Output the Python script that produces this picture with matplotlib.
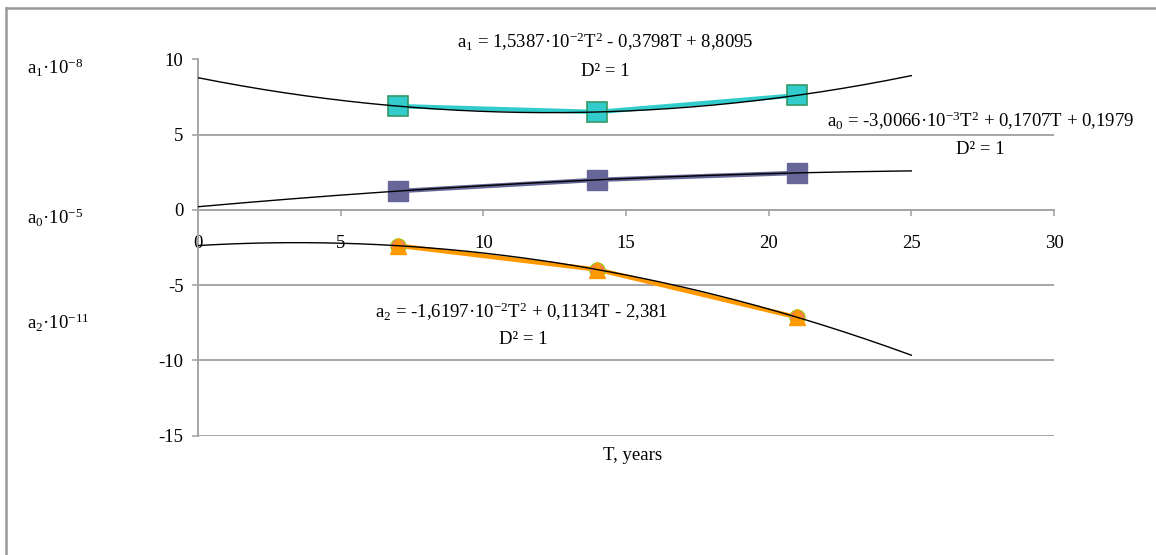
import numpy as np
import matplotlib
matplotlib.use("Agg")
import matplotlib.pyplot as plt
from matplotlib.lines import Line2D

# ---- data ----
T = [7, 14, 21]
a1 = [6.90, 6.51, 7.62]
a0 = [1.25, 2.00, 2.46]
a2 = [-2.38, -3.97, -7.14]
trend_range = (0, 25)
x_ticks = [0, 5, 10, 15, 20, 25, 30]
y_ticks = [-15, -10, -5, 0, 5, 10]

plt.rcParams['font.family'] = ['Liberation Serif', 'DejaVu Serif']
plt.rcParams['mathtext.fontset'] = 'custom'
plt.rcParams['mathtext.rm'] = 'Liberation Serif'
plt.rcParams['mathtext.it'] = 'Liberation Serif'
plt.rcParams['mathtext.default'] = 'rm'
plt.rcParams['axes.unicode_minus'] = False

fig = plt.figure(figsize=(11.56, 5.55), dpi=100)
ax = fig.add_axes([198/1156, 1-435.5/555, (1054-198)/1156, (435.5-59.5)/555])

grid_c = '#a6a6a6'
FS = 13.5

# colored series lines + markers
ax.plot(T, a1, color='#33cccc', lw=3.2, zorder=3)
ax.plot(T, a0, color='#666699', lw=3.2, zorder=3)
ax.plot(T, a2, color='#ff9900', lw=3.2, zorder=3)
ax.plot(T, a1, ls='none', marker='s', ms=14, mfc='#33cccc', mec='#339966', mew=1.2, zorder=4)
ax.plot(T, a0, ls='none', marker='s', ms=14, mfc='#666699', mec='#666699', zorder=4)
ax.plot(T, a2, ls='none', marker='o', ms=11, mfc='#ff7f50', mec='#99cc00', mew=0.8, zorder=4)
ax.plot(T, a2, ls='none', marker='^', ms=12, mfc='#ff9900', mec='#ff9900', zorder=5)

# polynomial trendlines (degree 2)
tt = np.linspace(trend_range[0], trend_range[1], 200)
for ys in (a1, a0, a2):
    c = np.polyfit(T, ys, 2)
    ax.plot(tt, np.polyval(c, tt), color='black', lw=1.0, zorder=6)

ax.set_xlim(0, 30)
ax.set_ylim(-15, 10)
ax.set_xticks(x_ticks)
ax.set_yticks(y_ticks)
for y in y_ticks:
    ax.axhline(y, color=grid_c, lw=1.4, zorder=1)

for s in ('top', 'right'):
    ax.spines[s].set_visible(False)
ax.spines['left'].set_color(grid_c)
ax.spines['left'].set_linewidth(1.4)
ax.spines['bottom'].set_position(('data', 0))
ax.spines['bottom'].set_color(grid_c)
ax.spines['bottom'].set_linewidth(1.4)
ax.tick_params(axis='y', direction='out', length=4.5, width=1.2, color=grid_c, labelsize=FS, pad=6)
ax.tick_params(axis='x', direction='out', length=4.5, width=1.2, color=grid_c, labelsize=FS, pad=13.5)

def ftext(x, y, s, **kw):
    fig.text(x/1156, 1-y/555, s, fontsize=FS, va='center', **kw)

ftext(27, 68, r'a$_1$·10$^{-8}$', ha='left')
ftext(27, 218, r'a$_0$·10$^{-5}$', ha='left')
ftext(27, 323, r'a$_2$·10$^{-11}$', ha='left')
ftext(605, 42, r'a$_1$ = 1,5387·10$^{-2}$T$^2$ - 0,3798T + 8,8095', ha='center')
ftext(605, 72, 'D² = 1', ha='center')
ftext(981, 121, r'a$_0$ = -3,0066·10$^{-3}$T$^2$ + 0,1707T + 0,1979', ha='center')
ftext(980, 150, 'D² = 1', ha='center')
ftext(522, 312, r'a$_2$ = -1,6197·10$^{-2}$T$^2$ + 0,1134T - 2,381', ha='center')
ftext(523, 340, 'D² = 1', ha='center')
ftext(633, 455, 'T, years', ha='center')

# outer chart border (top and left visible)
fig.add_artist(Line2D([5.5/1156, 1], [1-7.5/555, 1-7.5/555], color='#999999', lw=1.8))
fig.add_artist(Line2D([5.5/1156, 5.5/1156], [0, 1-7.5/555], color='#999999', lw=1.8))

fig.savefig('out.png', dpi=100)
